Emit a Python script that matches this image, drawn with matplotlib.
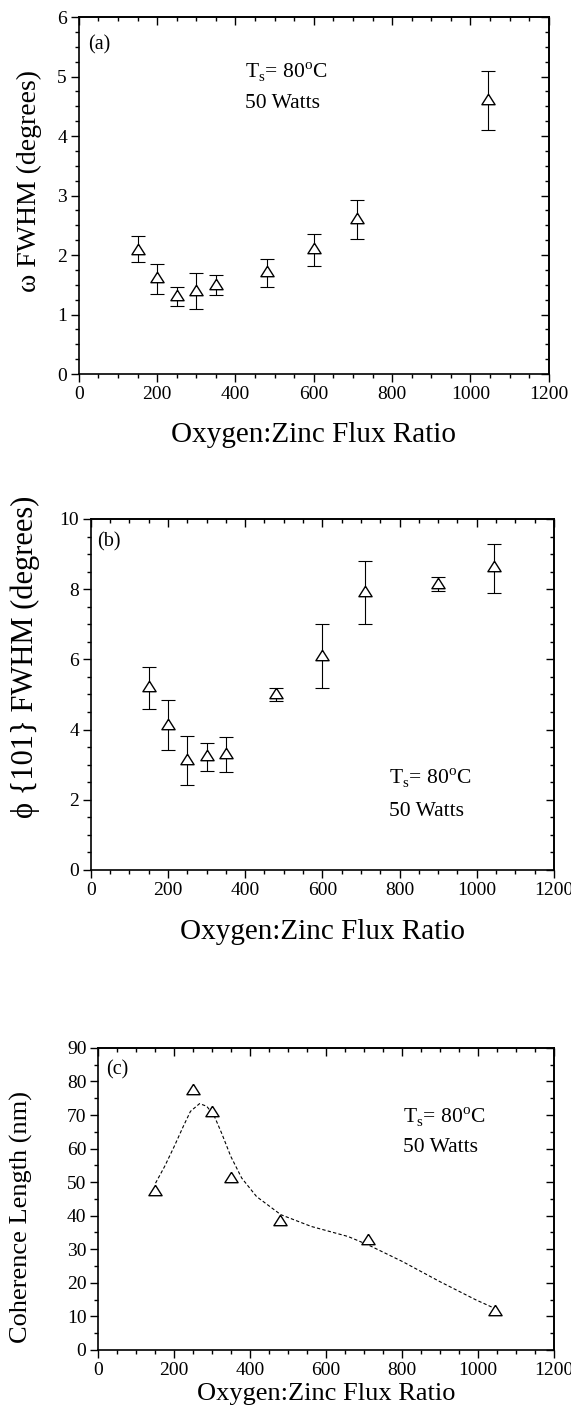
import matplotlib.pyplot as plt
from matplotlib.ticker import MultipleLocator

# fuente tipo Times, con respaldo para las letras griegas
plt.rcParams['font.family'] = ['Liberation Serif', 'DejaVu Serif']
plt.rcParams['mathtext.fontset'] = 'custom'
plt.rcParams['mathtext.rm'] = 'Liberation Serif'

# (a) anchura omega
ratio_a = [150, 200, 250, 300, 350, 480, 600, 710, 1045]
omega = [2.11, 1.63, 1.33, 1.42, 1.52, 1.73, 2.12, 2.62, 4.63]
omega_min = [1.88, 1.35, 1.15, 1.09, 1.33, 1.46, 1.82, 2.27, 4.10]
omega_max = [2.32, 1.85, 1.47, 1.70, 1.67, 1.94, 2.36, 2.92, 5.09]

# (b) anchura phi {101}
ratio_b = [150, 200, 250, 300, 350, 480, 600, 710, 900, 1045]
phi = [5.24, 4.16, 3.16, 3.28, 3.32, 5.04, 6.13, 7.95, 8.19, 8.66]
phi_min = [4.59, 3.42, 2.42, 2.83, 2.78, 4.80, 5.19, 7.00, 7.94, 7.90]
phi_max = [5.78, 4.83, 3.83, 3.63, 3.78, 5.19, 7.00, 8.81, 8.35, 9.30]

# (c) longitud de coherencia y curva guia
ratio_c = [150, 250, 300, 350, 480, 710, 1045]
coherencia = [47.7, 77.7, 71.1, 51.4, 38.8, 33.1, 11.9]
curva_x = [151, 175, 200, 224, 243, 267, 286, 306, 325, 349, 378, 417, 481,
           561, 658, 711, 802, 899, 995, 1044]
curva_y = [49.7, 54.7, 60.6, 66.6, 71.1, 73.4, 72.6, 69.6, 64.6, 57.7, 51.2,
           45.7, 40.3, 36.8, 33.8, 31.3, 26.3, 20.4, 14.9, 12.4]

xlabel = "Oxygen:Zinc Flux Ratio"
ts_txt = "T$_{\\mathrm{s}}$= 80$^{\\mathrm{o}}$C"

# triangulo abierto algo achatado
triangulo = [(0, 0.79), (-1, -0.79), (1, -0.79), (0, 0.79)]

fig = plt.figure(figsize=(5.71, 14.18), dpi=100)
ax_a = fig.add_axes([0.138, 0.7362, 0.823, 0.2518])
ax_b = fig.add_axes([0.159, 0.3865, 0.811, 0.2475])
ax_c = fig.add_axes([0.172, 0.048, 0.798, 0.213])


def estilo(ax, ymax, ymaj, ymin):
    ax.set_xlim(0, 1200)
    ax.set_ylim(0, ymax)
    ax.xaxis.set_major_locator(MultipleLocator(200))
    ax.xaxis.set_minor_locator(MultipleLocator(50))
    ax.yaxis.set_major_locator(MultipleLocator(ymaj))
    ax.yaxis.set_minor_locator(MultipleLocator(ymin))
    for s in ax.spines.values():
        s.set_linewidth(1.2)
    ax.tick_params(which='both', direction='out', width=1.0, labelsize=14, pad=3)
    ax.tick_params(which='major', length=5.5)
    ax.tick_params(which='minor', length=3)
    # ticks hacia dentro arriba y a la derecha
    arriba = ax.secondary_xaxis('top')
    arriba.xaxis.set_major_locator(MultipleLocator(200))
    arriba.xaxis.set_minor_locator(MultipleLocator(50))
    arriba.tick_params(which='both', direction='in', width=1.0, labeltop=False)
    arriba.tick_params(which='major', length=5.5)
    arriba.tick_params(which='minor', length=3)
    arriba.spines['top'].set_linewidth(1.2)
    dcha = ax.secondary_yaxis('right')
    dcha.yaxis.set_major_locator(MultipleLocator(ymaj))
    dcha.yaxis.set_minor_locator(MultipleLocator(ymin))
    dcha.tick_params(which='both', direction='in', width=1.0, labelright=False)
    dcha.tick_params(which='major', length=5.5)
    dcha.tick_params(which='minor', length=3)
    dcha.spines['right'].set_linewidth(1.2)


def barras(ax, x, y, lo, hi):
    err = [[v - l for v, l in zip(y, lo)], [h - v for v, h in zip(y, hi)]]
    ax.errorbar(x, y, yerr=err, fmt='none', ecolor='black', elinewidth=0.8,
                capsize=4.7, capthick=0.8, zorder=2)
    ax.plot(x, y, linestyle='none', marker=triangulo, markersize=9.5,
            mfc='white', mec='black', mew=1.0, zorder=3)


# panel (a)
estilo(ax_a, 6, 1, 0.25)
barras(ax_a, ratio_a, omega, omega_min, omega_max)
ax_a.set_xlabel(xlabel, fontsize=21)
ax_a.set_ylabel("\u03c9 FWHM (degrees)", fontsize=20)
ax_a.xaxis.set_label_coords(0.5, -0.134)
ax_a.yaxis.set_label_coords(-0.079, 0.54)
ax_a.text(23, 5.53, "(a)", fontsize=14.5, va='center')
ax_a.text(424, 4.99, ts_txt, fontsize=15.5, va='baseline')
ax_a.text(424, 4.47, "50 Watts", fontsize=15.5, va='baseline')

# panel (b)
estilo(ax_b, 10, 2, 0.5)
barras(ax_b, ratio_b, phi, phi_min, phi_max)
ax_b.set_xlabel(xlabel, fontsize=21)
ax_b.set_ylabel("\u03d5 {101} FWHM (degrees)", fontsize=22)
ax_b.xaxis.set_label_coords(0.5, -0.14)
ax_b.yaxis.set_label_coords(-0.110, 0.607)
ax_b.text(16, 9.35, "(b)", fontsize=14.5, va='center')
ax_b.text(774, 2.48, ts_txt, fontsize=15.5, va='baseline')
ax_b.text(774, 1.54, "50 Watts", fontsize=15.5, va='baseline')

# panel (c)
estilo(ax_c, 90, 10, 5)
ax_c.plot(curva_x, curva_y, color='black', lw=0.8, linestyle=(0, (3, 2)), zorder=2)
ax_c.plot(ratio_c, coherencia, linestyle='none', marker=triangulo, markersize=9.5,
          mfc='white', mec='black', mew=1.0, zorder=3)
ax_c.set_xlabel(xlabel, fontsize=19)
ax_c.set_ylabel("Coherence Length (nm)", fontsize=19)
ax_c.xaxis.set_label_coords(0.5, -0.109)
ax_c.yaxis.set_label_coords(-0.143, 0.44)
ax_c.text(21, 83.5, "(c)", fontsize=14.5, va='center')
ax_c.text(803, 67.9, ts_txt, fontsize=15.5, va='baseline')
ax_c.text(803, 59.1, "50 Watts", fontsize=15.5, va='baseline')

fig.savefig("out.png", dpi=100)
